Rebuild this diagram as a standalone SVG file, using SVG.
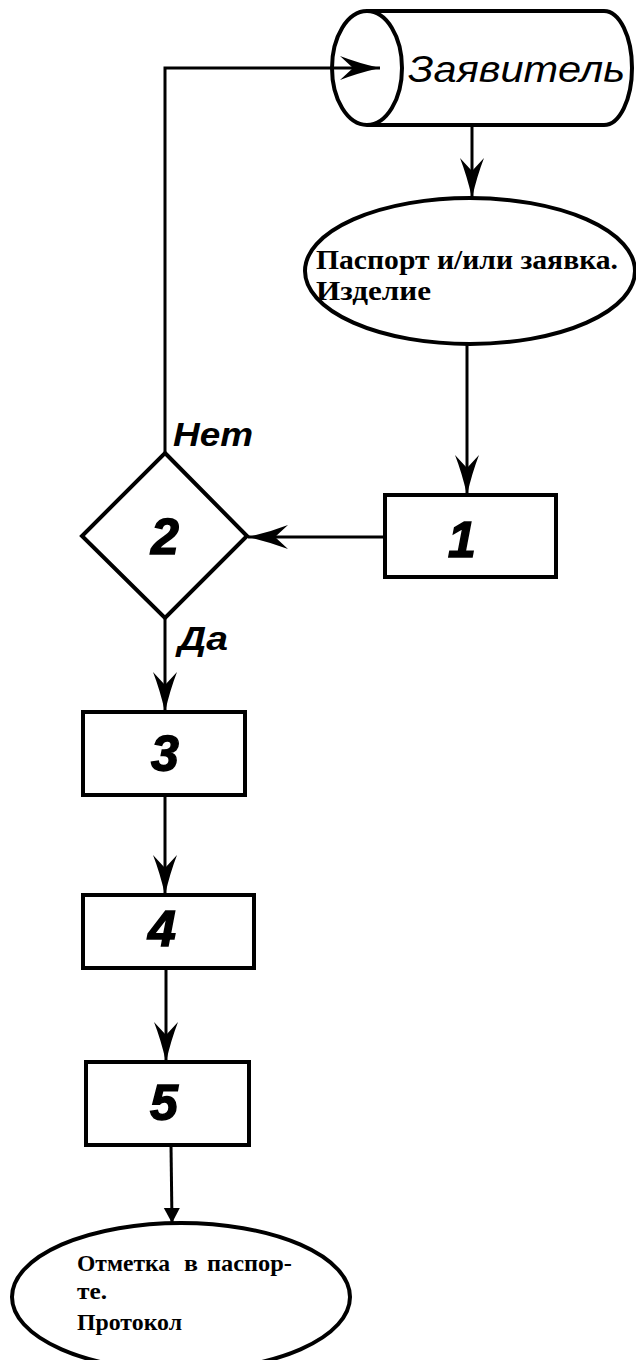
<svg xmlns="http://www.w3.org/2000/svg" width="636" height="1360" viewBox="0 0 636 1360">
<style>
.sh{fill:#fff;stroke:#000;stroke-width:4}
.ln{fill:none;stroke:#000;stroke-width:3}
.num{font-family:"Liberation Sans",Arial,sans-serif;font-weight:bold;font-style:italic;font-size:50px;text-anchor:middle;stroke:#000;stroke-width:1.5}
.lab{font-family:"Liberation Sans",Arial,sans-serif;font-weight:bold;font-style:italic;font-size:33px}
.ser{font-family:"Liberation Serif","Times New Roman",serif;font-weight:bold}
</style>
<defs>
<marker id="ah" markerUnits="userSpaceOnUse" viewBox="-42 -13 44 26" markerWidth="44" markerHeight="26" refX="0" refY="0" orient="auto">
<path d="M0,0 Q-22,-5 -40,-12 L-27,0 L-40,12 Q-22,5 0,0 Z" fill="#000"/>
</marker>
<marker id="tri" markerUnits="userSpaceOnUse" viewBox="-16 -9 18 18" markerWidth="18" markerHeight="18" refX="0" refY="0" orient="auto">
<path d="M0,0 L-15,-8 L-15,8 Z" fill="#000"/>
</marker>
</defs>
<g id="applicant">
<path class="sh" stroke-width="3.5" d="M367,11 L604,11 A28,57 0 0 1 604,125 L367,125"/>
<ellipse class="sh" stroke-width="3.5" cx="367" cy="68" rx="35" ry="57" fill="none"/>
<text x="408" y="82" font-family="Liberation Sans,Arial,sans-serif" font-style="italic" font-size="37" textLength="217" lengthAdjust="spacingAndGlyphs">Заявитель</text>
</g>
<g id="input">
<ellipse class="sh" cx="470" cy="271" rx="165" ry="73"/>
<text class="ser" font-size="28" x="316" y="269" textLength="302" lengthAdjust="spacingAndGlyphs">Паспорт и/или заявка.</text>
<text class="ser" font-size="28" x="316" y="300" textLength="115" lengthAdjust="spacingAndGlyphs">Изделие</text>
</g>
<g id="n1">
<rect class="sh" x="385" y="495" width="171" height="82"/>
<text class="num" x="462" y="557">1</text>
</g>
<g id="n2">
<path class="sh" d="M165,453 L247,536 L165,618 L82,536 Z"/>
<text class="num" x="165" y="554">2</text>
<text class="lab" x="173" y="446" textLength="80" lengthAdjust="spacingAndGlyphs">Нет</text>
<text class="lab" x="178" y="650" textLength="50" lengthAdjust="spacingAndGlyphs">Да</text>
</g>
<g id="n3">
<rect class="sh" x="83" y="712" width="162" height="83"/>
<text class="num" x="165" y="771">3</text>
</g>
<g id="n4">
<rect class="sh" x="83" y="895" width="171" height="73"/>
<text class="num" x="162" y="946">4</text>
</g>
<g id="n5">
<rect class="sh" x="86" y="1062" width="163" height="83"/>
<text class="num" x="164" y="1120">5</text>
</g>
<g id="output">
<ellipse class="sh" stroke-width="2" cx="181" cy="1297" rx="169" ry="74"/>
<text class="ser" font-size="23" x="77" y="1271" textLength="93" lengthAdjust="spacingAndGlyphs">Отметка</text>
<text class="ser" font-size="23" x="184" y="1271" textLength="14" lengthAdjust="spacingAndGlyphs">в</text>
<text class="ser" font-size="23" x="207" y="1271" textLength="85" lengthAdjust="spacingAndGlyphs">паспор-</text>
<text class="ser" font-size="23" x="77" y="1299" textLength="30" lengthAdjust="spacingAndGlyphs">те.</text>
<text class="ser" font-size="23" x="77" y="1330" textLength="105" lengthAdjust="spacingAndGlyphs">Протокол</text>
</g>
<g id="connectors">
<path class="ln" d="M165,453 L165,68 L380,68" marker-end="url(#ah)"/>
<path class="ln" d="M472,125 L472,198" marker-end="url(#ah)"/>
<path class="ln" d="M467,345 L467,495" marker-end="url(#ah)"/>
<path class="ln" d="M385,537 L248,537" marker-end="url(#ah)"/>
<path class="ln" d="M165,618 L165,712" marker-end="url(#ah)"/>
<path class="ln" d="M165,795 L165,895" marker-end="url(#ah)"/>
<path class="ln" d="M166,968 L166,1062" marker-end="url(#ah)"/>
<path class="ln" d="M171,1145 L172,1223" stroke-width="2.5" marker-end="url(#tri)"/>
</g>
</svg>
